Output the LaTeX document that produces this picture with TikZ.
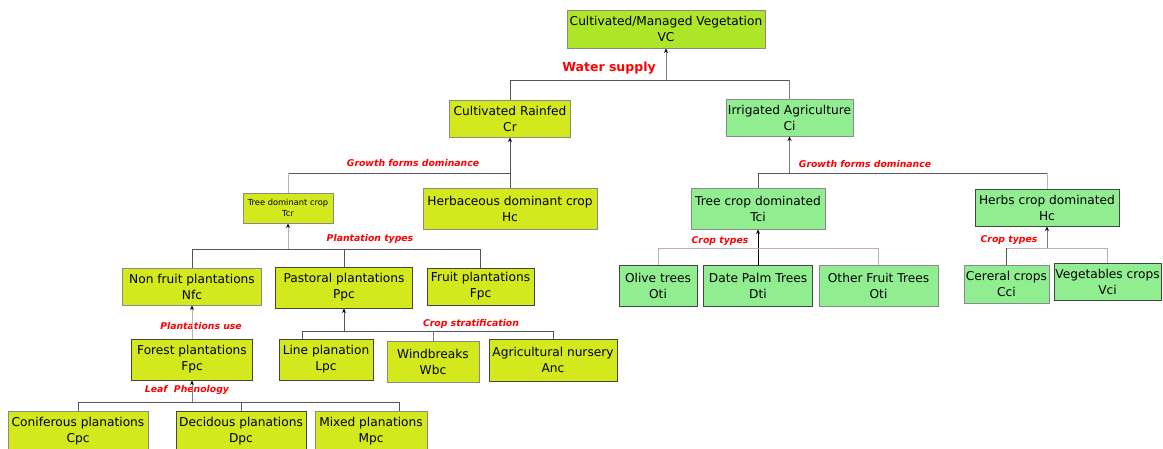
\documentclass[tikz,border=0pt]{standalone}
\usepackage{fontspec}
\setmainfont{DejaVu Sans}
\usetikzlibrary{arrows.meta}

\definecolor{vclime}{HTML}{ADE628}
\definecolor{rainlime}{HTML}{D4E81E}
\definecolor{irrgreen}{HTML}{90EE90}
\definecolor{bordermid}{HTML}{8A8A8A}
\definecolor{borderdark}{HTML}{444444}
\definecolor{linedark}{HTML}{555555}
\definecolor{linemid}{HTML}{7C7C7C}
\definecolor{linelight}{HTML}{B4B4B4}
\definecolor{labelred}{HTML}{FF0000}

\begin{document}
\begin{tikzpicture}[x=1pt,y=-1pt,
  box/.style={draw=bordermid, line width=1pt, inner sep=0pt, align=center,
              font=\fontsize{12.2}{16}\selectfont},
  dk/.style={draw=borderdark},
  sz/.style n args={2}{minimum width=#1pt, minimum height=#2pt},
  ylw/.style={box, fill=rainlime},
  grn/.style={box, fill=irrgreen},
  ldark/.style={draw=linedark, line width=1pt},
  lmid/.style={draw=linemid, line width=1pt},
  llight/.style={draw=linelight, line width=1pt},
  tip/.style={-{Stealth[length=4.5pt,width=4pt,color=black]}},
  crit/.style={text=labelred, inner sep=0pt, font=\fontsize{9.3}{11}\selectfont\bfseries\itshape},
]
\useasboundingbox (0,0) rectangle (1163,448);

% ---- boxes ----
\node[box, fill=vclime, sz={198}{38}] (vc) at (666,29) {Cultivated/Managed Vegetation\\VC};

\node[ylw, sz={121}{37}] (cr) at (510,118.5) {Cultivated Rainfed\\Cr};
\node[grn, sz={127}{37}] (ci) at (789.5,117.5) {Irrigated Agriculture\\Ci};

\node[ylw, sz={90}{30}, font=\fontsize{8.3}{11}\selectfont] (tcr) at (288,208) {Tree dominant crop\\Tcr};
\node[ylw, sz={174}{41}] (hc) at (510,208.5) {Herbaceous dominant crop\\Hc};
\node[grn, sz={134}{41}] (tci) at (758,208.5) {Tree crop dominated\\Tci};
\node[grn, dk, sz={144}{37}] (herbs) at (1047,207.5) {Herbs crop dominated\\Hc};

\node[ylw, sz={139}{37}] (nfc) at (192,286.5) {Non fruit plantations\\Nfc};
\node[ylw, dk, sz={137}{41}] (ppc) at (344,287.5) {Pastoral plantations\\Ppc};
\node[ylw, dk, sz={107}{37}] (fpc) at (480.5,286.5) {Fruit plantations\\Fpc};

\node[grn, dk, sz={78}{41}] (oti) at (658,285.5) {Olive trees\\Oti};
\node[grn, dk, sz={109}{41}] (dti) at (758,285.5) {Date Palm Trees\\Dti};
\node[grn, sz={119}{41}] (oth) at (878.5,285.5) {Other Fruit Trees\\Oti};
\node[grn, sz={85}{38}] (cci) at (1006.5,284) {Cereral crops\\Cci};
\node[grn, dk, sz={107}{37}] (vci) at (1107.5,281.5) {Vegetables crops\\Vci};

\node[ylw, dk, sz={121}{41}] (forest) at (192,359.5) {Forest plantations\\Fpc};
\node[ylw, dk, sz={94}{41}] (lpc) at (326,359.5) {Line planation\\Lpc};
\node[ylw, sz={92}{41}] (wbc) at (433,361.5) {Windbreaks\\Wbc};
\node[ylw, dk, sz={128}{42}] (anc) at (553,360) {Agricultural nursery\\Anc};

\node[ylw, sz={140}{41}] (cpc) at (78,431.5) {Coniferous planations\\Cpc};
\node[ylw, dk, sz={130}{41}] (dpc) at (241,431.5) {Decidous planations\\Dpc};
\node[ylw, sz={112}{41}] (mpc) at (371,431.5) {Mixed planations\\Mpc};

% ---- criteria labels ----
\node[text=labelred, inner sep=0pt, font=\fontsize{12.5}{14}\selectfont\bfseries] (wsup) at (609,68) {Water supply};
\node[crit] (gfl) at (413,163) {Growth forms dominance};
\node[crit] (gfr) at (865,164) {Growth forms dominance};
\node[crit] (ptyp) at (370,239) {Plantation types};
\node[crit] (puse) at (201,326) {Plantations use};
\node[crit] (cstr) at (471,324) {Crop stratification};
\node[crit] (leaf) at (187,390) {Leaf\ \ Phenology};
\node[crit] (ctl) at (720,241) {Crop types};
\node[crit] (ctr) at (1009,240) {Crop types};

% ---- connectors: water supply ----
\coordinate (bws) at (666,80);
\draw[lmid,tip] (bws) -- (vc.south);
\draw[ldark] (cr.north) -- (cr.north |- bws) -- (ci.north |- bws);
\draw[lmid] (ci.north |- bws) -- (ci.north);

% ---- rainfed: growth forms ----
\coordinate (bgl) at (510,173);
\draw[ldark,tip] (bgl) -- (cr.south);
\draw[ldark] (bgl) -- (tcr.north |- bgl);
\draw[llight] (tcr.north |- bgl) -- (tcr.north);
\draw[ldark] (bgl) -- (hc.north);

% ---- plantation types ----
\coordinate (bpt) at (288,249);
\draw[llight,tip] (bpt) -- (tcr.south);
\draw[ldark] (nfc.north) -- (nfc.north |- bpt) -- (fpc.north |- bpt) -- (fpc.north);
\draw[ldark] (ppc.north |- bpt) -- (ppc.north);

% ---- plantations use ----
\draw[llight,tip] (forest.north) -- (nfc.south);

% ---- crop stratification ----
\coordinate (bcs) at (344,331);
\draw[ldark,tip] (bcs) -- (ppc.south);
\draw[ldark] ([xshift=-24pt]lpc.north) -- ([xshift=-24pt]lpc.north |- bcs) -- (anc.north |- bcs) -- (anc.north);
\draw[lmid] (wbc.north |- bcs) -- (wbc.north);

% ---- leaf phenology ----
\coordinate (blp) at (192,402);
\draw[lmid,tip] (blp) -- (forest.south);
\draw[ldark] (cpc.north) -- (cpc.north |- blp) -- ([xshift=28pt]mpc.north |- blp) -- ([xshift=28pt]mpc.north);
\draw[ldark] (dpc.north |- blp) -- (dpc.north);

% ---- irrigated: growth forms ----
\coordinate (bgr) at (789.5,173);
\draw[lmid,tip] (bgr) -- (ci.south);
\draw[ldark] (tci.north) -- (tci.north |- bgr) -- (herbs.north |- bgr);
\draw[llight] (herbs.north |- bgr) -- (herbs.north);

% ---- tree crop types ----
\coordinate (bct) at (758,248);
\draw[draw=black, line width=1pt, tip] (dti.north) -- (tci.south);
\draw[llight] (oti.north) -- (oti.north |- bct) -- (oth.north |- bct) -- (oth.north);

% ---- herb crop types ----
\coordinate (bch) at (1047,248);
\draw[lmid,tip] (bch) -- (herbs.south);
\draw[llight] (cci.north |- bch) -- (vci.north |- bch) -- (vci.north);
\draw[ldark] (cci.north |- bch) -- (cci.north);
\end{tikzpicture}
\end{document}
